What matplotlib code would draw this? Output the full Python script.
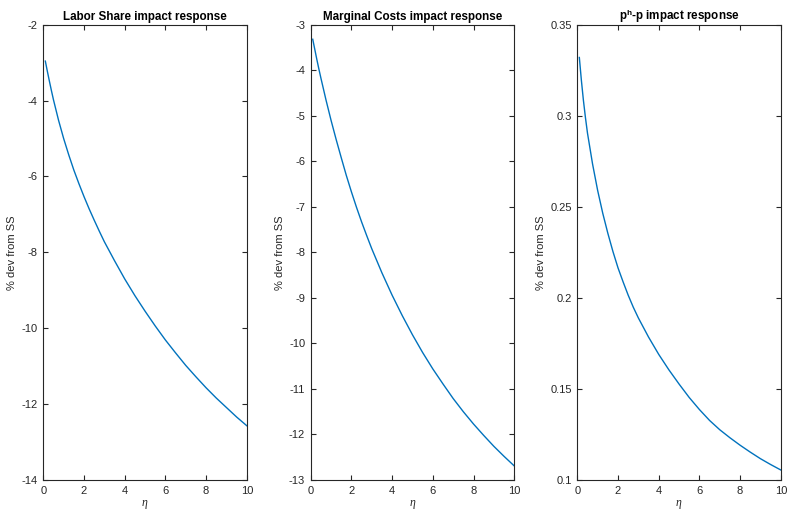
import matplotlib
matplotlib.use("Agg")
import matplotlib.pyplot as plt
from matplotlib.ticker import FuncFormatter

plt.rcParams['font.family'] = ['Liberation Sans', 'DejaVu Sans']
plt.rcParams['mathtext.fontset'] = 'custom'
plt.rcParams['mathtext.rm'] = 'Liberation Sans'
plt.rcParams['mathtext.bf'] = 'Liberation Sans:bold'
plt.rcParams['mathtext.it'] = 'Liberation Serif:italic'

eta = [0.1, 0.2, 0.3, 0.4, 0.5, 0.75, 1.0, 1.25, 1.5, 1.75, 2.0, 2.25, 2.5, 2.75, 3.0,
       3.5, 4.0, 4.5, 5.0, 5.5, 6.0, 6.5, 7.0, 7.5, 8.0, 8.5, 9.0, 9.5, 10.0]
labor_share = [-2.96, -3.23, -3.49, -3.74, -3.98, -4.52, -5.00, -5.43, -5.83, -6.19,
               -6.53, -6.85, -7.15, -7.44, -7.72, -8.22, -8.70, -9.14, -9.55, -9.94,
               -10.31, -10.65, -10.98, -11.28, -11.57, -11.84, -12.09, -12.34, -12.57]
marginal_costs = [-3.32, -3.54, -3.76, -3.97, -4.17, -4.65, -5.10, -5.52, -5.92, -6.31,
                  -6.67, -7.01, -7.33, -7.63, -7.92, -8.45, -8.94, -9.39, -9.81, -10.20,
                  -10.56, -10.89, -11.21, -11.50, -11.77, -12.02, -12.26, -12.48, -12.69]
ph_minus_p = [0.332, 0.3195, 0.3085, 0.299, 0.2905, 0.2735, 0.259, 0.2465, 0.2355, 0.2255,
              0.2165, 0.2088, 0.2015, 0.1949, 0.189, 0.1785, 0.169, 0.1605, 0.1527, 0.1453,
              0.1387, 0.1327, 0.1276, 0.1232, 0.1191, 0.1153, 0.1117, 0.1085, 0.1055]

titles = ['Labor Share impact response', 'Marginal Costs impact response',
          r'p$^{\mathbf{h}}$-p impact response']
ylims = [(-14, -2), (-13, -3), (0.1, 0.35)]
yticks = [[-14, -12, -10, -8, -6, -4, -2],
          [-13, -12, -11, -10, -9, -8, -7, -6, -5, -4, -3],
          [0.1, 0.15, 0.2, 0.25, 0.3, 0.35]]
xticks = [0, 2, 4, 6, 8, 10]
series = [labor_share, marginal_costs, ph_minus_p]

W, H = 789, 511
fig = plt.figure(figsize=(W / 100, H / 100), dpi=100)
lefts = [43.3, 310.7, 577.3]
axw = 203.5
top, bottom = 24.7, 480.0
axcol = '#262626'
for i in range(3):
    ax = fig.add_axes([lefts[i] / W, 1 - bottom / H, axw / W, (bottom - top) / H])
    ax.plot(eta, series[i], color='#0072BD', lw=1.0)
    ax.set_xlim(0, 10)
    ax.set_ylim(*ylims[i])
    ax.set_xticks(xticks)
    ax.set_yticks(yticks[i])
    ax.yaxis.set_major_formatter(FuncFormatter(lambda v, p: ('%g' % v)))
    ax.tick_params(direction='in', top=True, right=True, length=3.5, width=0.8,
                   labelsize=8, colors=axcol, pad=4)
    for s in ax.spines.values():
        s.set_color(axcol)
        s.set_linewidth(0.8)
    ax.set_title(titles[i], fontsize=8.4, fontweight='bold', pad=3.2, color='black')
    ax.set_ylabel('% dev from SS', fontsize=8, color=axcol, labelpad=3)
    ax.set_xlabel(r'$\eta$', fontsize=8.5, color=axcol, labelpad=2)

fig.savefig('out.png', dpi=100)
